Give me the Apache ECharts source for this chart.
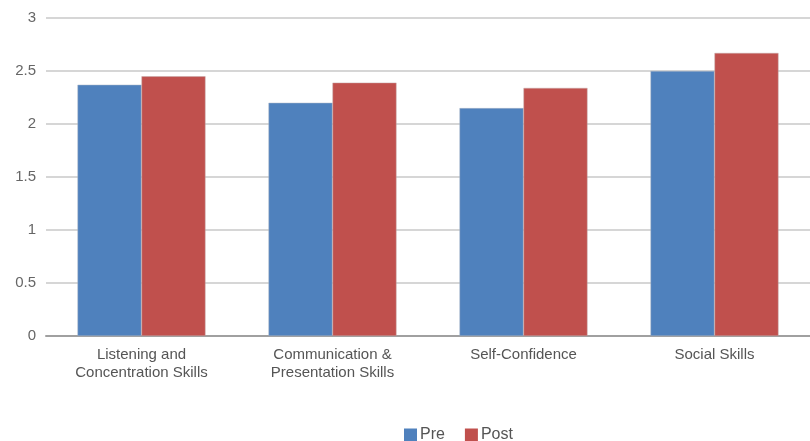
<!DOCTYPE html>
<html><head><meta charset="utf-8">
<script src="https://cdn.jsdelivr.net/npm/echarts@6/dist/echarts.min.js"></script>
<style>html,body{margin:0;padding:0;background:#fff}#c{width:810px;height:441px}</style>
</head><body><div id="c"></div>
<script>
const categories = ["Listening and\nConcentration Skills", "Communication &\nPresentation Skills", "Self-Confidence", "Social Skills"];
const preValues = [2.37, 2.20, 2.15, 2.50];
const postValues = [2.45, 2.39, 2.34, 2.67];
const seriesNames = ["Pre", "Post"];

const chart = echarts.init(document.getElementById('c'));
chart.setOption({
  animation: false,
  textStyle: { fontFamily: 'Liberation Sans, Arial, sans-serif' },
  legend: {
    top: 422, left: 399,
    icon: 'rect',
    itemWidth: 13, itemHeight: 13, itemGap: 20,
    itemStyle: { borderWidth: 0 },
    textStyle: { color: '#555', fontSize: 16, padding: [0, 0, 0, -2] },
    data: seriesNames
  },
  grid: { left: 46, right: 0, top: 18, bottom: 105, containLabel: false },
  xAxis: {
    type: 'category', data: categories,
    axisLine: { lineStyle: { color: '#a0a0a0', width: 2 } },
    axisTick: { show: false },
    axisLabel: { color: '#555', fontSize: 15, lineHeight: 18, margin: 10 }
  },
  yAxis: {
    type: 'value', min: 0, max: 3, interval: 0.5,
    axisLabel: { color: '#666', fontSize: 15, margin: 10 },
    splitLine: { lineStyle: { color: '#c8c8c8', width: 1.5 } },
    axisLine: { show: false }, axisTick: { show: false }
  },
  series: [
    { name: seriesNames[0], type: 'bar', data: preValues, barGap: '0%', barCategoryGap: '33%',
      itemStyle: { color: '#4F81BD', borderColor: '#a8b4c4', borderWidth: 0.5 } },
    { name: seriesNames[1], type: 'bar', data: postValues,
      itemStyle: { color: '#C0504D', borderColor: '#c4a8a8', borderWidth: 0.5 } }
  ]
});
</script></body></html>
